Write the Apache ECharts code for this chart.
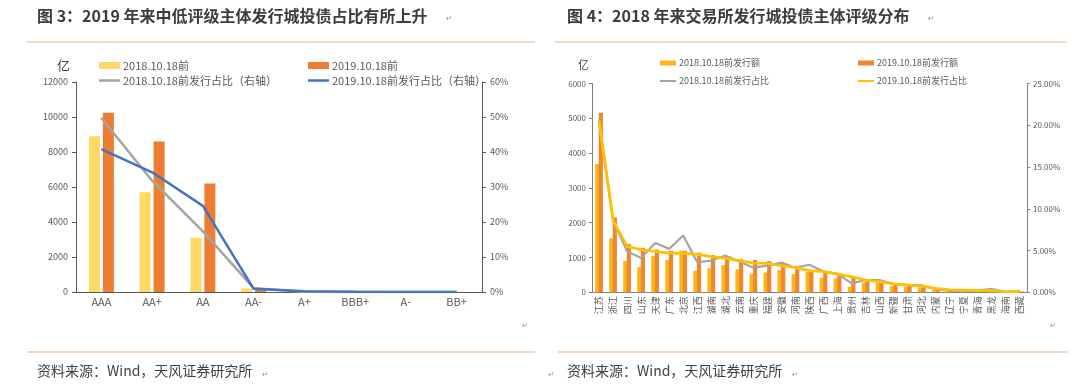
<!DOCTYPE html>
<html><head><meta charset="utf-8">
<script src="https://cdn.jsdelivr.net/npm/echarts@6/dist/echarts.min.js"></script>
<style>html,body{margin:0;padding:0;background:#fff}#c{width:1080px;height:389px}</style>
</head><body><div id="c"></div>
<script>
// ---------- Chart 3 data ----------
const ratingCats = ['AAA', 'AA+', 'AA', 'AA-', 'A+', 'BBB+', 'A-', 'BB+'];
const amt2018 = [8900, 5700, 3100, 200, 10, 0, 0, 0];
const amt2019 = [10250, 8600, 6200, 230, 40, 10, 5, 3];
const share2018 = [49.7, 31.8, 17.3, 1.1, 0.1, 0, 0, 0];
const share2019 = [40.8, 34.2, 24.6, 0.9, 0.2, 0.05, 0.02, 0.01];
const leftTicks = [0, 12000, 2000];   // min, max, interval
const leftPctTicks = [0, 60, 10];

// ---------- Chart 4 data ----------
const provinces = ['江苏','浙江','四川','山东','天津','广东','北京','江西','湖南','湖北','云南','重庆','福建','安徽','河南','陕西','广西','上海','贵州','吉林','山西','新疆','甘肃','河北','内蒙','辽宁','宁夏','青海','黑龙','海南','西藏'];
const issue2018 = [3690,1550,900,720,1040,930,1200,620,690,780,660,530,570,640,520,590,420,400,160,280,270,180,160,140,60,40,35,35,70,10,30];
const issue2019 = [5160,2150,1390,1280,1230,1190,1190,1140,1070,1020,950,930,900,810,760,620,610,540,460,360,320,250,220,190,120,70,60,50,50,12,25];
const ratio2018 = [20.6,8.6,4.9,4.1,5.9,5.2,6.8,3.6,3.8,4.4,3.7,2.95,3.2,3.55,2.95,3.3,2.5,2.2,1.07,1.47,1.47,1.0,0.84,0.84,0.36,0.2,0.2,0.2,0.4,0.05,0.2];
const ratio2019 = [20.6,8.6,5.5,5.1,4.9,4.7,4.7,4.55,4.27,4.07,3.78,3.5,3.47,3.2,2.95,2.6,2.47,2.19,1.87,1.47,1.27,1.0,0.88,0.75,0.48,0.28,0.25,0.2,0.2,0.05,0.1];
const rightTicks = [0, 6000, 1000];
const rightPctTicks = [0, 25, 5];

const FONT = "'Noto Sans CJK SC', 'Noto Sans', sans-serif";
const TXT = '#595959';
const AX = '#595959';
const ORANGE_LINE = '#F5CBA7';

const chart = echarts.init(document.getElementById('c'), null, {renderer: 'canvas'});

function legendItem(name, left, top, w, h, fs) {
  return {
    data: [{name: name, icon: 'rect'}],
    left: left, top: top, padding: 0,
    itemWidth: w, itemHeight: h, itemGap: 0,
    selectedMode: false,
    textStyle: {fontSize: fs, color: TXT, fontFamily: FONT, padding: [0, 0, 0, -2]}
  };
}
const plain = v => String(v);

const option = {
  animation: false,
  backgroundColor: '#fff',
  textStyle: {fontFamily: FONT},
  legend: [
    legendItem('2018.10.18前', 99, 60, 21, 7, 11),
    legendItem('2019.10.18前', 308, 60, 21, 7, 11),
    legendItem('2018.10.18前发行占比（右轴）', 99, 75, 21, 2.5, 11),
    legendItem('2019.10.18前发行占比（右轴）', 308, 75, 21, 2.5, 11),
    legendItem('2018.10.18前发行额', 660, 58.5, 16, 5, 9),
    legendItem('2019.10.18前发行额', 858, 58.5, 16, 5, 9),
    legendItem('2018.10.18前发行占比', 660, 76.5, 16, 2, 9),
    legendItem('2019.10.18前发行占比', 858, 76.5, 16, 2, 9)
  ],
  grid: [
    {left: 76, right: 598, top: 82, bottom: 97, containLabel: false},
    {left: 592, right: 53, top: 83.5, bottom: 96.7, containLabel: false}
  ],
  xAxis: [
    {type: 'category', gridIndex: 0, data: ratingCats,
      axisLine: {lineStyle: {color: AX, width: 1}},
      axisTick: {length: 4, lineStyle: {color: AX}},
      axisLabel: {fontSize: 11, color: TXT, margin: 4, fontFamily: FONT}},
    {type: 'category', gridIndex: 1, data: provinces,
      axisLine: {lineStyle: {color: '#7f7f7f', width: 1}},
      axisTick: {length: 3, lineStyle: {color: '#7f7f7f'}},
      axisLabel: {fontSize: 9, color: TXT, margin: 4, rotate: 90, interval: 0, fontFamily: FONT}}
  ],
  yAxis: [
    {type: 'value', gridIndex: 0, min: leftTicks[0], max: leftTicks[1], interval: leftTicks[2],
      axisLine: {show: true, lineStyle: {color: AX}},
      axisTick: {show: true, length: 4, lineStyle: {color: AX}},
      splitLine: {show: false},
      axisLabel: {fontSize: 9, color: TXT, margin: 8, fontFamily: FONT, formatter: plain}},
    {type: 'value', gridIndex: 0, position: 'right', min: leftPctTicks[0], max: leftPctTicks[1], interval: leftPctTicks[2],
      axisLine: {show: true, lineStyle: {color: AX}},
      axisTick: {show: true, length: 4, lineStyle: {color: AX}},
      splitLine: {show: false},
      axisLabel: {fontSize: 9, color: TXT, margin: 8, formatter: '{value}%', fontFamily: FONT}},
    {type: 'value', gridIndex: 1, min: rightTicks[0], max: rightTicks[1], interval: rightTicks[2],
      axisLine: {show: true, lineStyle: {color: '#7f7f7f'}},
      axisTick: {show: true, length: 3, lineStyle: {color: '#7f7f7f'}},
      splitLine: {show: false},
      axisLabel: {fontSize: 8, color: TXT, margin: 6, fontFamily: FONT, formatter: plain}},
    {type: 'value', gridIndex: 1, position: 'right', min: rightPctTicks[0], max: rightPctTicks[1], interval: rightPctTicks[2],
      axisLine: {show: true, lineStyle: {color: '#7f7f7f'}},
      axisTick: {show: true, length: 3, lineStyle: {color: '#7f7f7f'}},
      splitLine: {show: false},
      axisLabel: {fontSize: 8, color: TXT, margin: 6, fontFamily: FONT,
        formatter: v => v.toFixed(2) + '%'}}
  ],
  series: [
    {name: '2018.10.18前', type: 'bar', xAxisIndex: 0, yAxisIndex: 0, data: amt2018,
      barWidth: 11, barGap: '27%', itemStyle: {color: '#FFD966'}},
    {name: '2019.10.18前', type: 'bar', xAxisIndex: 0, yAxisIndex: 0, data: amt2019,
      barWidth: 11, barGap: '27%', itemStyle: {color: '#ED7D31'}},
    {name: '2018.10.18前发行占比（右轴）', type: 'line', xAxisIndex: 0, yAxisIndex: 1, data: share2018,
      showSymbol: false, symbol: 'none', lineStyle: {color: '#A5A5A5', width: 2.5}, itemStyle: {color: '#A5A5A5'}, z: 3},
    {name: '2019.10.18前发行占比（右轴）', type: 'line', xAxisIndex: 0, yAxisIndex: 1, data: share2019,
      showSymbol: false, symbol: 'none', lineStyle: {color: '#4472C4', width: 2.5}, itemStyle: {color: '#4472C4'}, z: 4},

    {name: '2018.10.18前发行额', type: 'bar', xAxisIndex: 1, yAxisIndex: 2, data: issue2018,
      barWidth: 4.2, barGap: '-15%', itemStyle: {color: '#FDB515'}},
    {name: '2019.10.18前发行额', type: 'bar', xAxisIndex: 1, yAxisIndex: 2, data: issue2019,
      barWidth: 4.2, barGap: '-15%', itemStyle: {color: '#EC8733'}},
    {name: '2018.10.18前发行占比', type: 'line', xAxisIndex: 1, yAxisIndex: 3, data: ratio2018,
      showSymbol: false, symbol: 'none', lineStyle: {color: '#A5A5A5', width: 2.2}, itemStyle: {color: '#A5A5A5'}, z: 3},
    {name: '2019.10.18前发行占比', type: 'line', xAxisIndex: 1, yAxisIndex: 3, data: ratio2019,
      showSymbol: false, symbol: 'none', lineStyle: {color: '#FFC000', width: 2.8}, itemStyle: {color: '#FFC000'}, z: 4}
  ],
  graphic: [
    {type: 'text', left: 37, top: 8, style: {text: '图 3：2019 年来中低评级主体发行城投债占比有所上升', fontSize: 16, fontWeight: 'bold', fill: '#3c3c3c', fontFamily: FONT}},
    {type: 'text', left: 567, top: 8, style: {text: '图 4：2018 年来交易所发行城投债主体评级分布', fontSize: 16, fontWeight: 'bold', fill: '#3c3c3c', fontFamily: FONT}},
    {type: 'text', left: 446, top: 15, style: {text: '↵', fontSize: 8, fill: '#999', fontFamily: 'DejaVu Sans'}},
    {type: 'text', left: 928, top: 15, style: {text: '↵', fontSize: 8, fill: '#999', fontFamily: 'DejaVu Sans'}},
    {type: 'line', shape: {x1: 26, y1: 42, x2: 535, y2: 42}, style: {stroke: ORANGE_LINE, lineWidth: 1.5}},
    {type: 'line', shape: {x1: 555, y1: 42, x2: 1066, y2: 42}, style: {stroke: ORANGE_LINE, lineWidth: 1.5}},
    {type: 'text', left: 57, top: 59, style: {text: '亿', fontSize: 13, fill: '#404040', fontFamily: FONT}},
    {type: 'text', left: 578, top: 59, style: {text: '亿', fontSize: 11, fill: '#404040', fontFamily: FONT}},
    {type: 'text', left: 522, top: 322, style: {text: '↵', fontSize: 8, fill: '#999', fontFamily: 'DejaVu Sans'}},
    {type: 'text', left: 1050, top: 322, style: {text: '↵', fontSize: 8, fill: '#999', fontFamily: 'DejaVu Sans'}},
    {type: 'line', shape: {x1: 27, y1: 352, x2: 535, y2: 352}, style: {stroke: ORANGE_LINE, lineWidth: 1.5}},
    {type: 'line', shape: {x1: 558, y1: 352, x2: 1068, y2: 352}, style: {stroke: ORANGE_LINE, lineWidth: 1.5}},
    {type: 'text', left: 37, top: 364, style: {text: '资料来源：Wind，天风证券研究所', fontSize: 14, fill: '#404040', fontFamily: FONT}},
    {type: 'text', left: 567, top: 364, style: {text: '资料来源：Wind，天风证券研究所', fontSize: 14, fill: '#404040', fontFamily: FONT}},
    {type: 'text', left: 262, top: 371, style: {text: '↵', fontSize: 8, fill: '#999', fontFamily: 'DejaVu Sans'}},
    {type: 'text', left: 548, top: 371, style: {text: '↵', fontSize: 8, fill: '#999', fontFamily: 'DejaVu Sans'}},
    {type: 'text', left: 792, top: 371, style: {text: '↵', fontSize: 8, fill: '#999', fontFamily: 'DejaVu Sans'}}
  ]
};
chart.setOption(option);
</script></body></html>
